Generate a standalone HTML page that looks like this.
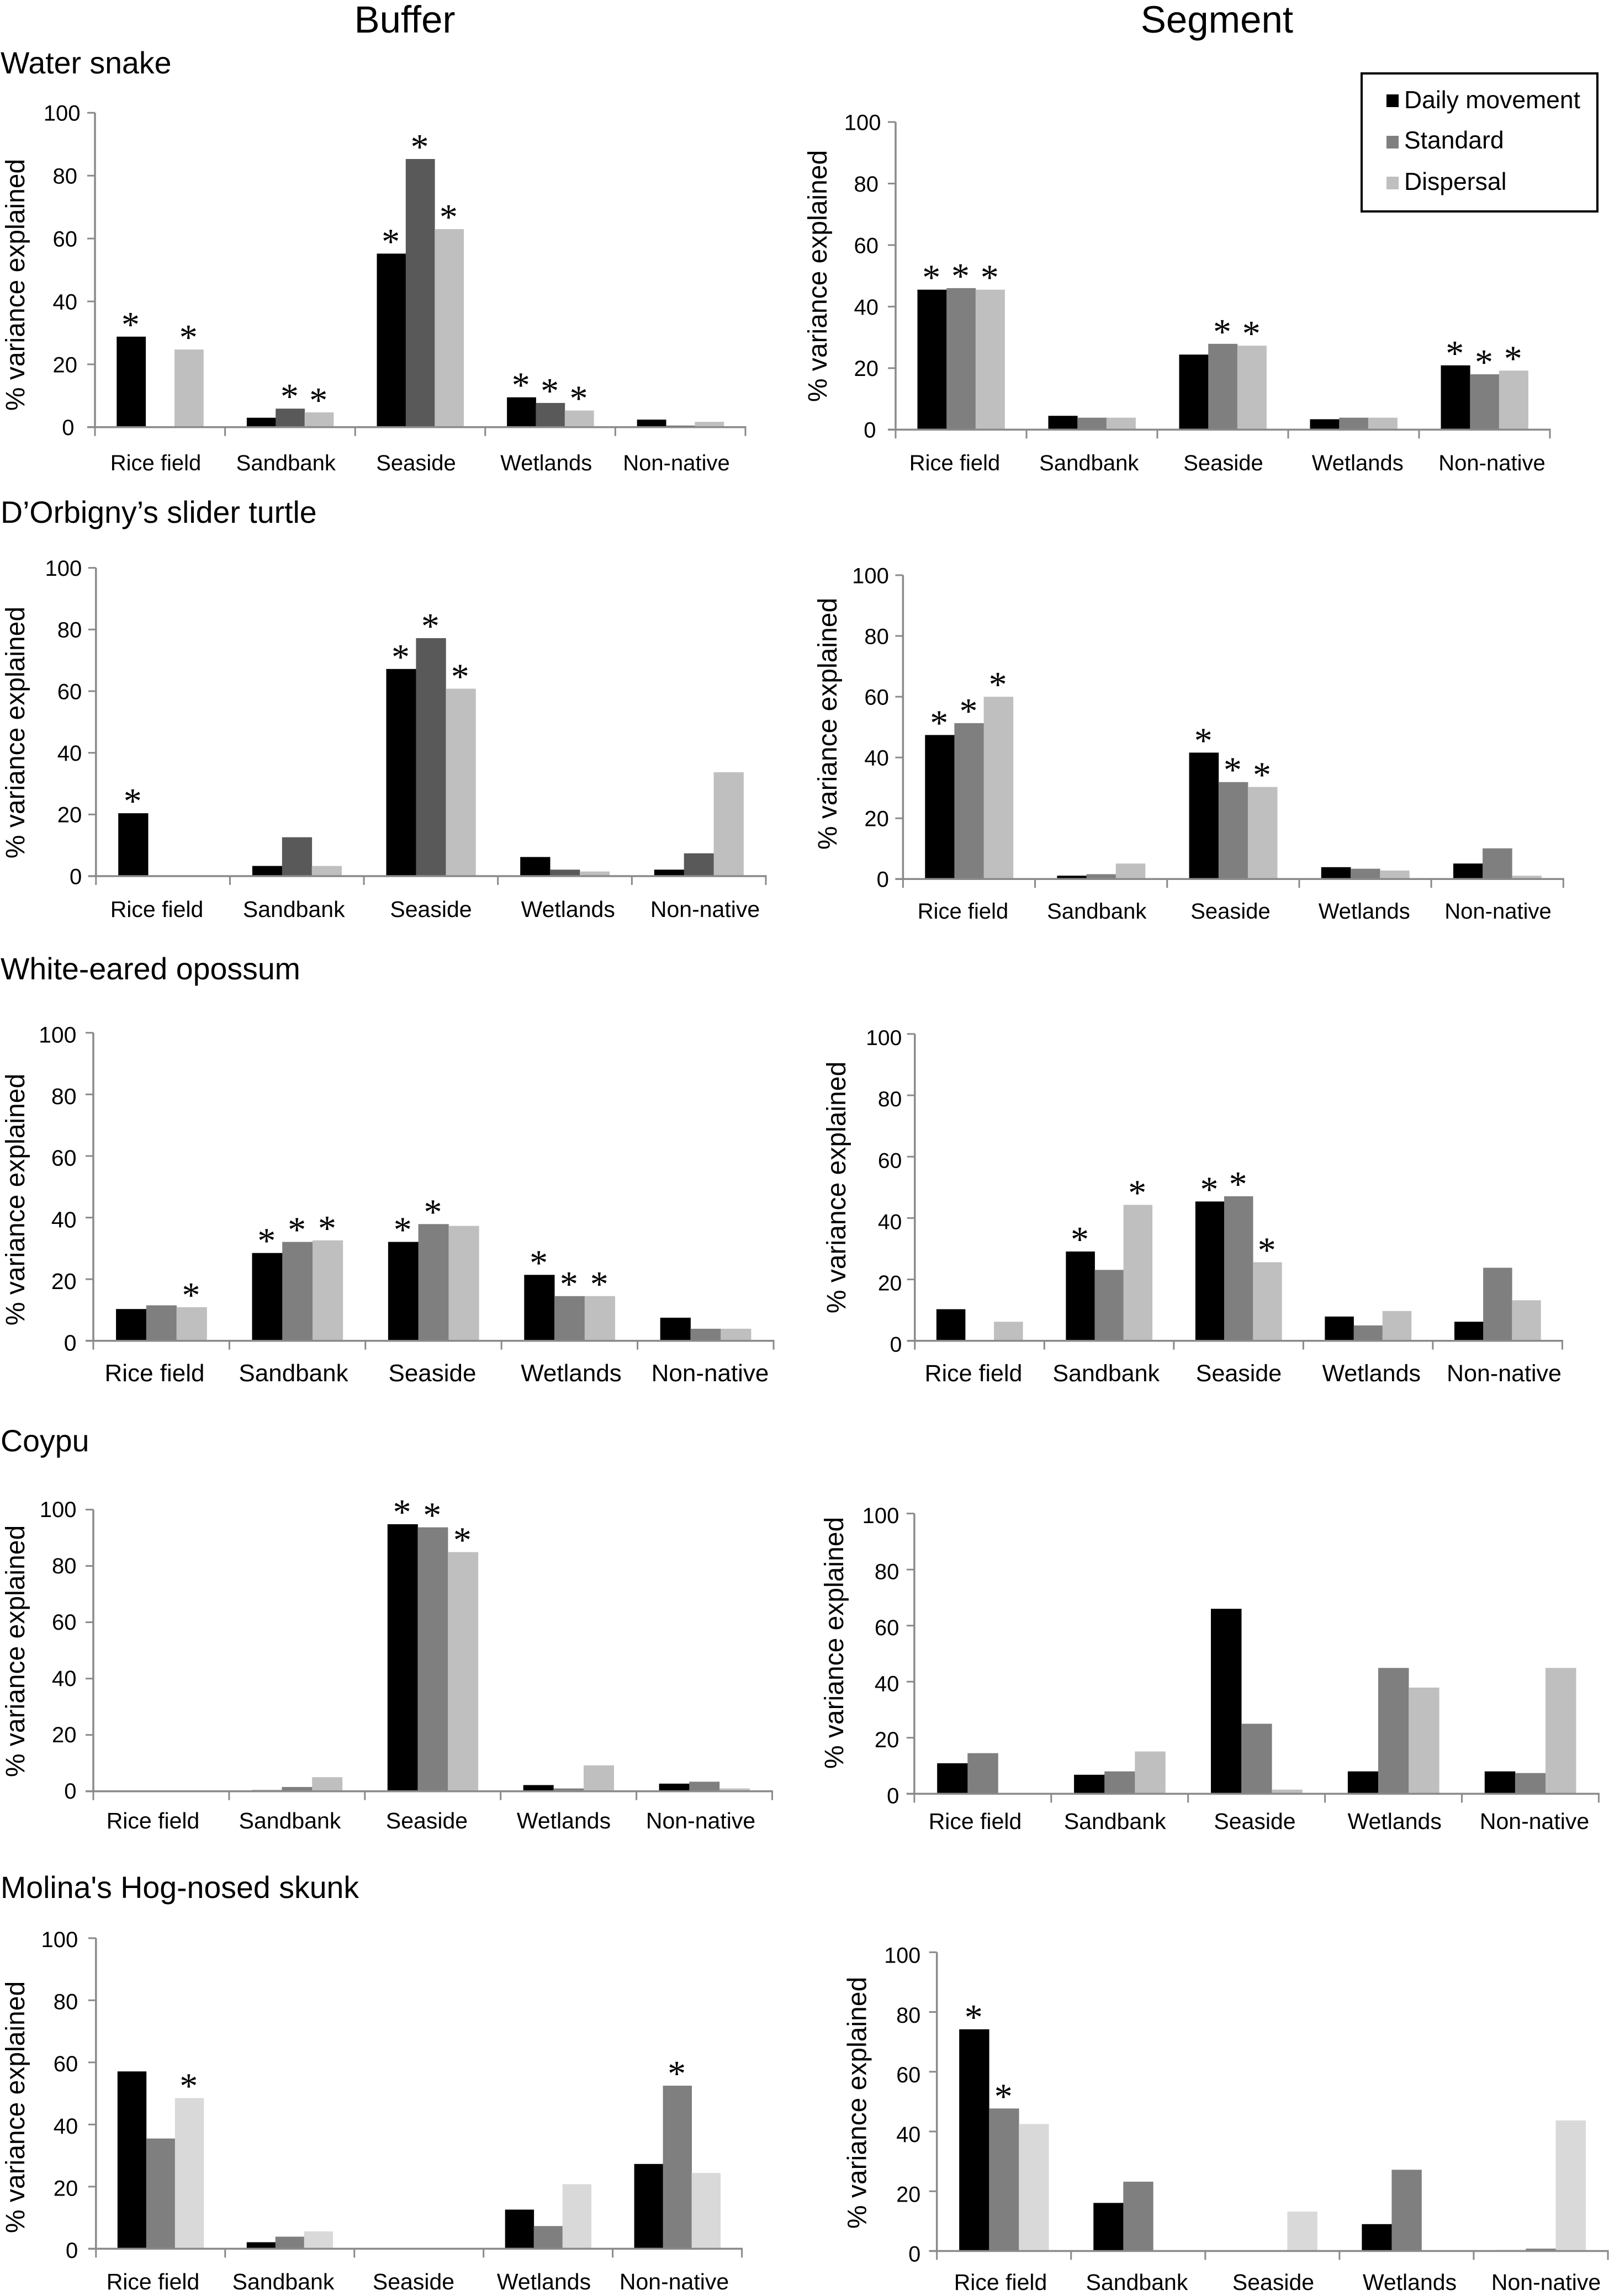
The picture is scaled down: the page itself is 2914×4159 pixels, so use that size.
<!DOCTYPE html>
<html lang="en">
<head>
<meta charset="utf-8">
<title>Percent variance explained by land cover, by species, buffer and segment</title>
<style>
html,body{margin:0;padding:0;background:#fff;width:2914px;height:4159px;overflow:hidden}
svg{display:block}
text{font-family:"Liberation Sans",Arial,sans-serif;fill:#000}
</style>
</head>
<body>
<svg id="figure" xmlns="http://www.w3.org/2000/svg" width="2914" height="4159" viewBox="0 0 2914 4159">
  <text x="733" y="59" font-size="69" text-anchor="middle">Buffer</text>
  <text x="2204" y="59" font-size="69" text-anchor="middle">Segment</text>
  <text x="1" y="133" font-size="55.5">Water snake</text>
  <text x="1" y="947" font-size="55.5">D’Orbigny’s slider turtle</text>
  <text x="1" y="1774" font-size="55.5">White-eared opossum</text>
  <text x="1" y="2629" font-size="55.5">Coypu</text>
  <text x="1" y="3438" font-size="55.5">Molina's Hog-nosed skunk</text>
  <g>
    <rect x="2466" y="133" width="427" height="250" fill="#fff" stroke="#000" stroke-width="4"/>
    <rect x="2511" y="171" width="22" height="23" fill="#000"/>
    <text x="2543" y="196" font-size="44.5">Daily movement</text>
    <rect x="2511" y="246" width="22" height="23" fill="#7f7f7f"/>
    <text x="2543" y="269" font-size="44.5">Standard</text>
    <rect x="2511" y="320" width="22" height="23" fill="#bfbfbf"/>
    <text x="2543" y="344" font-size="44.5">Dispersal</text>
  </g>
</svg>
<script>
const categories = ['Rice field', 'Sandbank', 'Seaside', 'Wetlands', 'Non-native'];
const seriesNames = ['daily-movement', 'standard', 'dispersal'];
const yTickLabels = [0, 20, 40, 60, 80, 100];
const yAxisTitle = '% variance explained';

const snakeBufferDaily = [28.8, 3.0, 55.2, 9.5, 2.4];
const snakeBufferStandard = [0, 5.9, 85.3, 7.7, 0.5];
const snakeBufferDispersal = [24.7, 4.7, 63.0, 5.3, 1.7];
const snakeBufferStars = [[1, 0, 1], [0, 1, 1], [1, 1, 1], [1, 1, 1], [0, 0, 0]];

const snakeSegmentDaily = [45.5, 4.5, 24.4, 3.4, 20.9];
const snakeSegmentStandard = [46.0, 3.9, 27.9, 3.9, 18.0];
const snakeSegmentDispersal = [45.5, 3.9, 27.3, 3.9, 19.2];
const snakeSegmentStars = [[1, 1, 1], [0, 0, 0], [0, 1, 1], [0, 0, 0], [1, 1, 1]];

const turtleBufferDaily = [20.4, 3.3, 67.2, 6.2, 2.1];
const turtleBufferStandard = [0, 12.6, 77.2, 2.1, 7.4];
const turtleBufferDispersal = [0, 3.3, 60.8, 1.5, 33.7];
const turtleBufferStars = [[1, 0, 0], [0, 0, 0], [1, 1, 1], [0, 0, 0], [0, 0, 0]];

const turtleSegmentDaily = [47.4, 1.1, 41.6, 3.9, 5.1];
const turtleSegmentStandard = [51.3, 1.6, 31.9, 3.4, 10.1];
const turtleSegmentDispersal = [60.0, 5.1, 30.3, 2.8, 1.1];
const turtleSegmentStars = [[1, 1, 1], [0, 0, 0], [1, 1, 1], [0, 0, 0], [0, 0, 0]];

const opossumBufferDaily = [10.3, 28.5, 32.1, 21.4, 7.5];
const opossumBufferStandard = [11.5, 32.1, 37.9, 14.5, 3.9];
const opossumBufferDispersal = [10.9, 32.6, 37.3, 14.5, 3.9];
const opossumBufferStars = [[0, 0, 1], [1, 1, 1], [1, 1, 0], [1, 1, 1], [0, 0, 0]];

const opossumSegmentDaily = [10.3, 29.1, 45.4, 7.9, 6.2];
const opossumSegmentStandard = [0, 23.1, 47.1, 5.0, 23.8];
const opossumSegmentDispersal = [6.2, 44.3, 25.6, 9.7, 13.2];
const opossumSegmentStars = [[0, 0, 0], [1, 0, 1], [1, 1, 1], [0, 0, 0], [0, 0, 0]];

const coypuBufferDaily = [0, 0.4, 94.8, 2.2, 2.7];
const coypuBufferStandard = [0, 1.5, 93.7, 1.0, 3.4];
const coypuBufferDispersal = [0, 5.0, 84.9, 9.2, 1.0];
const coypuBufferStars = [[0, 0, 0], [0, 0, 0], [1, 1, 1], [0, 0, 0], [0, 0, 0]];

const coypuSegmentDaily = [10.9, 6.8, 66.0, 8.0, 8.0];
const coypuSegmentStandard = [14.5, 8.0, 25.0, 44.9, 7.4];
const coypuSegmentDispersal = [0, 15.1, 1.5, 37.9, 44.9];
const coypuSegmentStars = [[0, 0, 0], [0, 0, 0], [0, 0, 0], [0, 0, 0], [0, 0, 0]];

const skunkBufferDaily = [57.1, 2.1, 0, 12.6, 27.3];
const skunkBufferStandard = [35.5, 3.9, 0, 7.3, 52.5];
const skunkBufferDispersal = [48.5, 5.6, 0, 20.8, 24.4];
const skunkBufferStars = [[0, 0, 1], [0, 0, 0], [0, 0, 0], [0, 0, 0], [0, 1, 0]];

const skunkSegmentDaily = [74.2, 16.1, 0, 9.0, 0.3];
const skunkSegmentStandard = [47.7, 23.2, 0, 27.2, 0.8];
const skunkSegmentDispersal = [42.5, 0, 13.2, 0, 43.7];
const skunkSegmentStars = [[1, 1, 0], [0, 0, 0], [0, 0, 0], [0, 0, 0], [0, 0, 0]];

const panelLayouts = [
  {name: 'water-snake-buffer', left: 172, right: 1350, top: 204.3, base: 773.8, labelSize: 40, labelBase: 852, labelFirst: 282, labelLast: 1225, tickSize: 40, tickGap: 26.5, tickDrop: 0, stagger: 5.5, titleX: 44, titleY: 516, mid: '#595959', light: '#bfbfbf',
   series: [snakeBufferDaily, snakeBufferStandard, snakeBufferDispersal], stars: snakeBufferStars},
  {name: 'water-snake-segment', left: 1622, right: 2807, top: 221, base: 778.3, labelSize: 40, labelBase: 852, labelFirst: 1729, labelLast: 2702, tickSize: 40, tickGap: 26.5, tickDrop: 0, stagger: 4.5, titleX: 1497, titleY: 500, mid: '#7f7f7f', light: '#bfbfbf',
   series: [snakeSegmentDaily, snakeSegmentStandard, snakeSegmentDispersal], stars: snakeSegmentStars},
  {name: 'slider-turtle-buffer', left: 173.8, right: 1387, top: 1028.6, base: 1587, labelSize: 41, labelBase: 1661, labelFirst: 284, labelLast: 1277, tickSize: 40, tickGap: 25.5, tickDrop: 0, stagger: 0, titleX: 44, titleY: 1327, mid: '#595959', light: '#bfbfbf',
   series: [turtleBufferDaily, turtleBufferStandard, turtleBufferDispersal], stars: turtleBufferStars},
  {name: 'slider-turtle-segment', left: 1635.4, right: 2831.3, top: 1041.9, base: 1592.3, labelSize: 40, labelBase: 1664, labelFirst: 1744, labelLast: 2713, tickSize: 40, tickGap: 25.5, tickDrop: 0, stagger: 0, titleX: 1515, titleY: 1311, mid: '#7f7f7f', light: '#bfbfbf',
   series: [turtleSegmentDaily, turtleSegmentStandard, turtleSegmentDispersal], stars: turtleSegmentStars},
  {name: 'opossum-buffer', left: 169, right: 1401, top: 1870.8, base: 2428.7, labelSize: 44, labelBase: 2502, labelFirst: 280, labelLast: 1286, tickSize: 41, tickGap: 30.5, tickDrop: 3, stagger: 0, titleX: 44, titleY: 2173, mid: '#7f7f7f', light: '#bfbfbf',
   series: [opossumBufferDaily, opossumBufferStandard, opossumBufferDispersal], stars: opossumBufferStars},
  {name: 'opossum-segment', left: 1656.8, right: 2829.4, top: 1872.9, base: 2428.7, labelSize: 43, labelBase: 2502, labelFirst: 1763, labelLast: 2724, tickSize: 39, tickGap: 23.5, tickDrop: 6, stagger: 0, titleX: 1531, titleY: 2151, mid: '#7f7f7f', light: '#bfbfbf',
   series: [opossumSegmentDaily, opossumSegmentStandard, opossumSegmentDispersal], stars: opossumSegmentStars},
  {name: 'coypu-buffer', left: 169, right: 1398.5, top: 2734.5, base: 3244.7, labelSize: 41, labelBase: 3312, labelFirst: 277, labelLast: 1269, tickSize: 40, tickGap: 30.5, tickDrop: -1, stagger: 0, titleX: 44, titleY: 2991, mid: '#7f7f7f', light: '#bfbfbf',
   series: [coypuBufferDaily, coypuBufferStandard, coypuBufferDispersal], stars: coypuBufferStars},
  {name: 'coypu-segment', left: 1655.9, right: 2895.4, top: 2741.6, base: 3249.3, labelSize: 41, labelBase: 3313, labelFirst: 1766, labelLast: 2779, tickSize: 40, tickGap: 27.5, tickDrop: 3, stagger: 0, titleX: 1527, titleY: 2976, mid: '#7f7f7f', light: '#bfbfbf',
   series: [coypuSegmentDaily, coypuSegmentStandard, coypuSegmentDispersal], stars: coypuSegmentStars},
  {name: 'skunk-buffer', left: 173.8, right: 1343.6, top: 3510.8, base: 4073.4, labelSize: 41, labelBase: 4147, labelFirst: 277, labelLast: 1221, tickSize: 40, tickGap: 32.5, tickDrop: 2, stagger: 0, titleX: 44, titleY: 3817, mid: '#7f7f7f', light: '#d9d9d9',
   series: [skunkBufferDaily, skunkBufferStandard, skunkBufferDispersal], stars: skunkBufferStars},
  {name: 'skunk-segment', left: 1696.7, right: 2912, top: 3536.3, base: 4077.5, labelSize: 41, labelBase: 4148, labelFirst: 1812, labelLast: 2800, tickSize: 39.5, tickGap: 29.5, tickDrop: 5, stagger: 0, titleX: 1568.5, titleY: 3809, mid: '#7f7f7f', light: '#d9d9d9',
   series: [skunkSegmentDaily, skunkSegmentStandard, skunkSegmentDispersal], stars: skunkSegmentStars}
];

const SVG_NS = 'http://www.w3.org/2000/svg';
const AXIS_COLOR = '#8a8a8a';
const STAR_SIZE = 66;
const STAR_GAP = 31;
const figure = document.getElementById('figure');

function make(parent, tag, attrs) {
  const el = document.createElementNS(SVG_NS, tag);
  for (const key in attrs) el.setAttribute(key, attrs[key]);
  parent.appendChild(el);
  return el;
}

function drawPanel(p) {
  const group = make(figure, 'g', {});
  
  

  const yScale = v => p.base - (p.base - p.top) * v / 100;
  const catWidth = (p.right - p.left) / categories.length;
  const catStart = c => p.left + catWidth * c;
  const barWidth = catWidth / 4.5;
  const barX = (c, s) => catStart(c) + barWidth * (0.75 + s);
  const labelX = c => p.labelFirst + (p.labelLast - p.labelFirst) * c / (categories.length - 1);
  const fills = ['#000000', p.mid, p.light];

  p.series.forEach((values, s) => {
    values.forEach((value, c) => {
      const bar = make(group, 'rect', {
        x: barX(c, s).toFixed(1),
        y: yScale(value).toFixed(1),
        width: (barWidth + 0.4).toFixed(1),
        height: (p.base - yScale(value)).toFixed(1),
        fill: fills[s]
      });
      
      
      if (p.stars[c][s]) {
        const star = make(group, 'text', {
          x: (barX(c, s) + barWidth / 2 - 1).toFixed(1),
          y: (yScale(value) - STAR_GAP + STAR_SIZE * 0.47).toFixed(1),
          'font-size': STAR_SIZE,
          'text-anchor': 'middle',
          style: 'font-family:"Liberation Serif",serif'
        });
        star.textContent = '*';
        
        
      }
    });
  });

  const yAxis = make(group, 'line', {x1: p.left, x2: p.left, y1: p.top, y2: p.base, stroke: AXIS_COLOR, 'stroke-width': 3.5});
  
  

  const xAxis = make(group, 'line', {x1: p.left - 14, x2: p.right + 1.5, y1: p.base, y2: p.base, stroke: AXIS_COLOR, 'stroke-width': 3.5});
  
  

  yTickLabels.forEach(label => {
    const y = yScale(label);
    const tick = make(group, 'line', {x1: p.left - 14, x2: p.left, y1: y, y2: y, stroke: AXIS_COLOR, 'stroke-width': 3});
    
    
    const digitsShort = 3 - String(label).length;
    const text = make(group, 'text', {
      x: p.left - p.tickGap - p.stagger * digitsShort,
      y: y + p.tickDrop + p.tickSize * 0.36,
      'font-size': p.tickSize,
      'text-anchor': 'end'
    });
    text.textContent = label;
    
    
  });

  for (let c = 0; c <= categories.length; c++) {
    const x = catStart(c);
    const tick = make(group, 'line', {x1: x, x2: x, y1: p.base, y2: p.base + 16, stroke: AXIS_COLOR, 'stroke-width': 3});
    
    
  }

  categories.forEach((category, c) => {
    const text = make(group, 'text', {x: labelX(c), y: p.labelBase, 'font-size': p.labelSize, 'text-anchor': 'middle'});
    text.textContent = category;
    
    
  });

  const title = make(group, 'text', {
    x: 0, y: 0,
    'font-size': 48,
    'text-anchor': 'middle',
    transform: 'translate(' + p.titleX + ' ' + p.titleY + ') rotate(-90)'
  });
  title.textContent = yAxisTitle;
  
  
}

panelLayouts.forEach(drawPanel);
</script>
</body>
</html>
